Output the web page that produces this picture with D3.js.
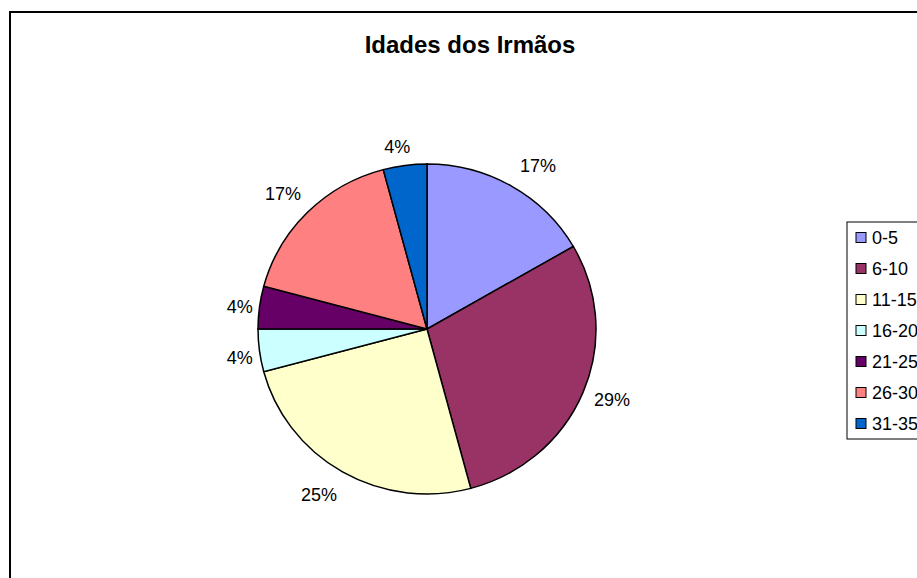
<!DOCTYPE html>
<html><head><meta charset="utf-8">
<script src="https://cdn.jsdelivr.net/npm/d3@7"></script>
<style>html,body{margin:0;padding:0;background:#fff;}svg{display:block;}</style>
</head><body>
<svg id="chart" width="917" height="578"></svg>
<script>
const title = "Idades dos Irmãos";
const categories = ["0-5","6-10","11-15","16-20","21-25","26-30","31-35"];
const counts = [4,7,6,1,1,4,1];
const colors = ["#9999FF","#993366","#FFFFCC","#CCFFFF","#660066","#FF8080","#0066CC"];
// small label placement nudges (px) to mimic the original's label layout
const labelNudgeX = [12, 2, -9, 9, 9, -4, -4];
const labelNudgeY = [-2, 0, 5, 5, 2, -3, 2];

const svg = d3.select("#chart");
const font = "Arial, 'Liberation Sans', sans-serif";

// outer frame
svg.append("rect").attr("x",10).attr("y",12).attr("width",1000).attr("height",1000)
  .attr("fill","#fff").attr("stroke","#000").attr("stroke-width",2);

svg.append("text").attr("x",470).attr("y",53).attr("text-anchor","middle")
  .attr("font-family",font).attr("font-weight","bold").attr("font-size",24)
  .text(title);

const cx = 427, cy = 329, rx = 169, ry = 165;
const total = d3.sum(counts);
const pie = d3.pie().sort(null).value(d=>d);
const arcs = pie(counts);
const arc = d3.arc().innerRadius(0).outerRadius(rx);

const g = svg.append("g").attr("transform",`translate(${cx},${cy}) scale(1,${ry/rx})`);
g.selectAll("path").data(arcs).join("path")
  .attr("d",arc).attr("fill",(d,i)=>colors[i])
  .attr("stroke","#000").attr("stroke-width",1.5);

const fmt = d => Math.round(d/total*100) + "%";
const lg = svg.append("g").attr("transform",`translate(${cx},${cy})`);
arcs.forEach((a,i)=>{
  const m = (a.startAngle+a.endAngle)/2;
  const ux = Math.sin(m), uy = -Math.cos(m);
  const gap = 12, w = 34, h = 18;
  const x = (rx+gap)*ux + w/2*ux + labelNudgeX[i];
  const y = (ry+gap)*uy + h/2*uy + labelNudgeY[i];
  lg.append("text").attr("x",x).attr("y",y).attr("text-anchor","middle")
    .attr("dominant-baseline","central")
    .attr("font-family",font).attr("font-size",18).text(fmt(counts[i]));
});

// legend
const legX = 847, legY = 222, legH = 217, step = 31;
svg.append("rect").attr("x",legX).attr("y",legY).attr("width",200).attr("height",legH)
  .attr("fill","#fff").attr("stroke","#000").attr("stroke-width",1);
const items = svg.append("g");
categories.forEach((c,i)=>{
  const y = legY + 15.5 + i*step;
  items.append("rect").attr("x",856).attr("y",y-5).attr("width",10).attr("height",10)
    .attr("fill",colors[i]).attr("stroke","#000").attr("stroke-width",1);
  items.append("text").attr("x",872).attr("y",y).attr("dominant-baseline","central")
    .attr("font-family",font).attr("font-size",18).text(c);
});
</script>
</body></html>
